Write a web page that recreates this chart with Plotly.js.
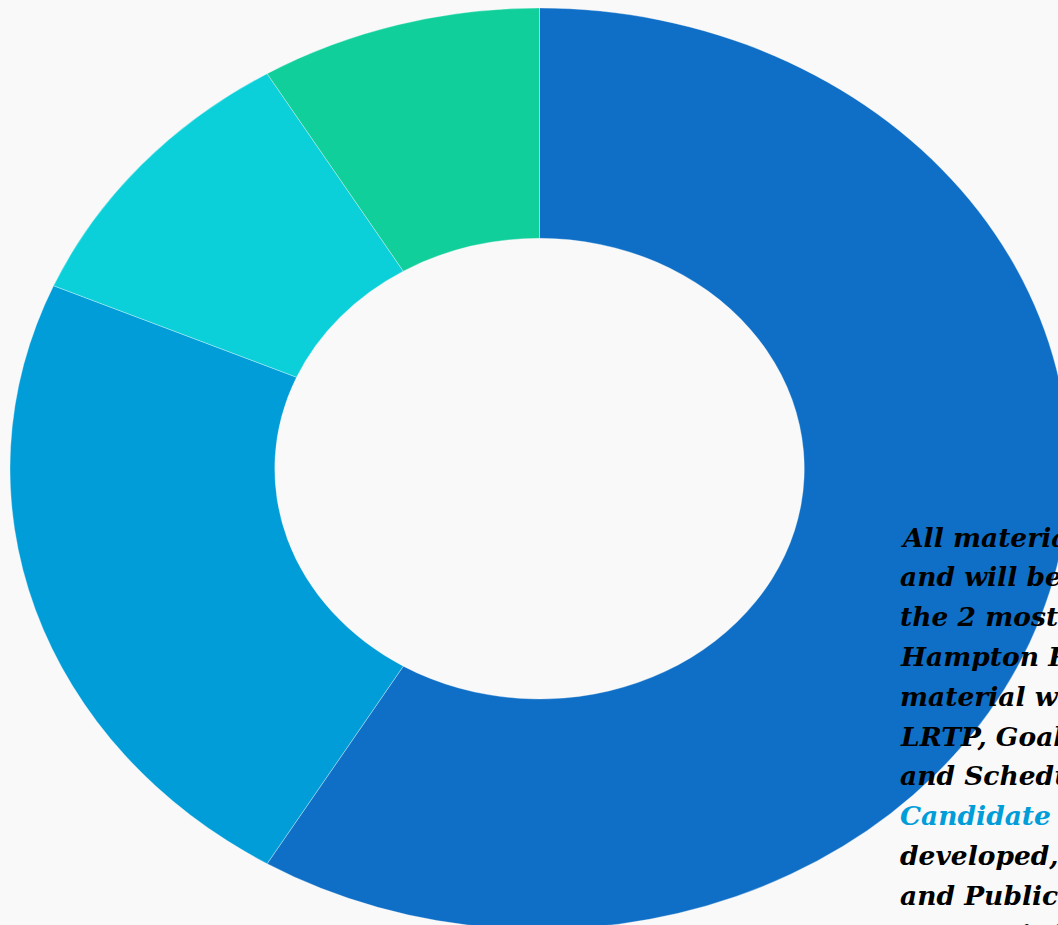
<!DOCTYPE html>
<html>
<head>
<meta charset="utf-8">
<script src="https://cdn.plot.ly/plotly-3.0.1.min.js"></script>
<style>
  html, body { margin: 0; padding: 0; width: 1058px; height: 925px; overflow: hidden; background: #f9f9f9; }
  #pie { position: absolute; left: 10px; top: 7.5px; width: 1059px; height: 1059px; transform: scaleY(0.87); transform-origin: 0 0; }
  #txt { position: absolute; left: 0; top: 0; width: 1058px; height: 925px; pointer-events: none; }
</style>
</head>
<body>
<div id="pie"></div>
<div id="txt"></div>
<script>
// Data (share of the ring, clockwise from 12 o'clock)
const categories = ["Segment A", "Segment B", "Segment C", "Segment D"];
const values = [58.6, 22.9, 9.9, 8.6];
const colors = ["#0F6FC6", "#009DD9", "#0BD0D9", "#10CF9B"];

const textLines = [
  "All materials are posted",
  "and will be reviewed at",
  "the 2 most recent",
  "Hampton Roads TPO",
  "material workshops:",
  "LRTP, Goals, Objectives",
  "and Schedule;",
  "<span style=\"color:#009DD9\">Candidate Projects</span>",
  "developed, evaluated",
  "and Public Outreach",
  "contact information"
];

Plotly.newPlot("pie", [{
  type: "pie",
  labels: categories,
  values: values,
  hole: 0.5,
  sort: false,
  direction: "clockwise",
  rotation: 0,
  textinfo: "none",
  hoverinfo: "skip",
  marker: { colors: colors, line: { color: "rgba(255,255,255,0.35)", width: 1 } }
}], {
  width: 1059, height: 1059,
  margin: { l: 0, r: 0, t: 0, b: 0, pad: 0 },
  showlegend: false,
  paper_bgcolor: "rgba(0,0,0,0)",
  plot_bgcolor: "rgba(0,0,0,0)"
}, { staticPlot: true, displayModeBar: false });

const lineAnnotations = textLines.map((t, i) => ({
  xref: "paper", yref: "paper",
  x: 898 / 1058, y: 1 - (537 + i * 39.8) / 925,
  xanchor: "left", yanchor: "middle",
  align: "left",
  showarrow: false,
  text: t,
  font: { family: "DejaVu Serif, serif", size: 26.5, color: "#000000", weight: "bold", style: "italic" }
}));

Plotly.newPlot("txt", [], {
  width: 1058, height: 925,
  margin: { l: 0, r: 0, t: 0, b: 0, pad: 0 },
  paper_bgcolor: "rgba(0,0,0,0)",
  plot_bgcolor: "rgba(0,0,0,0)",
  xaxis: { visible: false, range: [0, 1] },
  yaxis: { visible: false, range: [0, 1] },
  annotations: lineAnnotations
}, { staticPlot: true, displayModeBar: false });
</script>
</body>
</html>
